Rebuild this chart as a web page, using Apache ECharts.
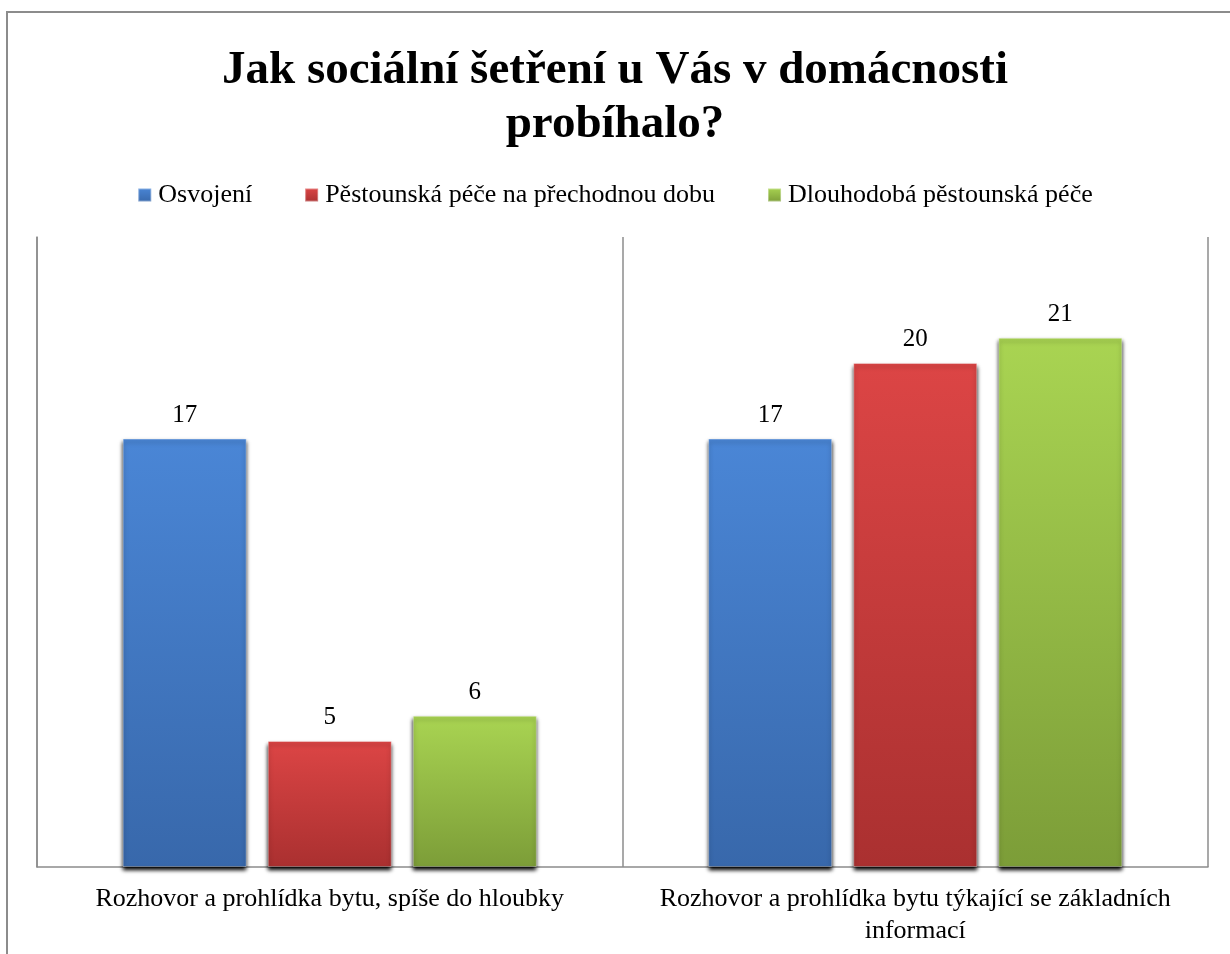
<!DOCTYPE html>
<html>
<head>
<meta charset="utf-8">
<script src="https://cdn.jsdelivr.net/npm/echarts@6/dist/echarts.min.js"></script>
<style>
  html, body { margin: 0; padding: 0; background: #fff; }
  #chart { width: 1230px; height: 954px; }
</style>
</head>
<body>
<div id="chart"></div>
<script>
// kategorie na ose x
const categories = [
  'Rozhovor a prohlídka bytu, spíše do hloubky',
  'Rozhovor a prohlídka bytu týkající se základních\ninformací'
];
// hodnoty jednotlivých řad
const osvojeni = [17, 17];
const prechodna = [5, 20];
const dlouhodoba = [6, 21];
const seriesNames = ['Osvojení', 'Pěstounská péče na přechodnou dobu', 'Dlouhodobá pěstounská péče'];

const font = '"Liberation Serif", "Times New Roman", serif';

// barevný přechod sloupce (světlejší nahoře)
function grad(top, bottom) {
  return new echarts.graphic.LinearGradient(0, 0, 0, 1, [
    { offset: 0, color: top },
    { offset: 1, color: bottom }
  ]);
}

function makeSeries(name, data, top, bottom) {
  return {
    name: name,
    type: 'bar',
    data: data,
    barWidth: 124,
    barGap: '17%',
    itemStyle: {
      color: grad(top, bottom),
      borderColor: 'rgba(255,255,255,0.35)',
      borderWidth: 1,
      shadowColor: '#000',
      shadowBlur: 4,
      shadowOffsetY: 3
    },
    label: {
      show: true,
      position: 'top',
      distance: 11,
      color: '#000',
      fontFamily: font,
      fontSize: 25
    }
  };
}

const chart = echarts.init(document.getElementById('chart'));
chart.setOption({
  animation: false,
  title: {
    text: 'Jak sociální šetření u Vás v domácnosti\nprobíhalo?',
    left: 'center',
    top: 39,
    textStyle: {
      fontFamily: font,
      fontWeight: 'bold',
      fontSize: 47,
      lineHeight: 54,
      color: '#000'
    }
  },
  legend: {
    top: 177,
    left: 'center',
    itemWidth: 13,
    itemHeight: 13,
    itemGap: 52,
    icon: 'rect',
    textStyle: { fontFamily: font, fontSize: 26, color: '#000', padding: [0, 0, 0, 2] },
    data: seriesNames
  },
  graphic: [{
    type: 'rect',
    shape: { x: 7, y: 12, width: 1400, height: 1100 },
    style: { fill: 'none', stroke: '#8c8c8c', lineWidth: 2 },
    silent: true
  }],
  grid: { left: 37, right: 22, top: 237, bottom: 87 },
  xAxis: {
    type: 'category',
    data: categories,
    axisLine: { show: true, lineStyle: { color: '#8c8c8c', width: 1.5 } },
    axisTick: { show: false },
    splitLine: { show: true, lineStyle: { color: '#8c8c8c', width: 1.5 } },
    axisLabel: {
      fontFamily: font,
      fontSize: 26,
      color: '#000',
      margin: 16,
      lineHeight: 32,
      interval: 0
    }
  },
  yAxis: {
    type: 'value',
    min: 0,
    max: 25,
    interval: 5,
    axisLine: { show: true, lineStyle: { color: '#8c8c8c', width: 1.5 } },
    axisTick: { show: false },
    axisLabel: { show: false },
    splitLine: { show: false }
  },
  series: [
    makeSeries(seriesNames[0], osvojeni, '#4a86d6', '#3868ab'),
    makeSeries(seriesNames[1], prechodna, '#dc4545', '#aa3030'),
    makeSeries(seriesNames[2], dlouhodoba, '#a9d452', '#7c9d38')
  ]
});
</script>
</body>
</html>
